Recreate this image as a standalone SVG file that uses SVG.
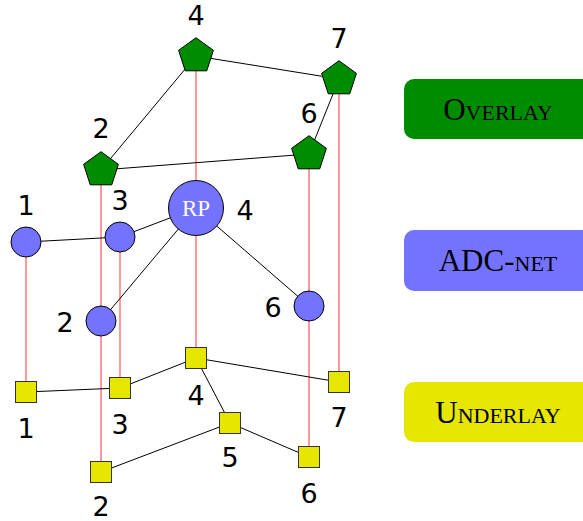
<svg xmlns="http://www.w3.org/2000/svg" width="583" height="521" viewBox="0 0 583 521">
<style>
.v{stroke:#ff9999;stroke-width:2;fill:none}
.e{stroke:#000;stroke-width:1;fill:none}
.ov{fill:#008c00;stroke:#000;stroke-width:1}
.adc{fill:#7373ff;stroke:#000;stroke-width:1}
.un{fill:#e6e600;stroke:#333;stroke-width:1}
.lb{font-family:"DejaVu Sans",sans-serif;font-size:27px;fill:#000;text-anchor:middle}
.lg{font-family:"Liberation Serif",serif;font-size:31px;fill:#000;text-anchor:middle;font-variant:small-caps}
</style>
<defs>
<polygon id="pent" points="0,-18.3 17.4,-5.65 10.76,14.8 -10.76,14.8 -17.4,-5.65"/>
</defs>
<g id="connectors">
<line class="v" x1="196" y1="56" x2="196" y2="358"/>
<line class="v" x1="101" y1="170" x2="101" y2="472"/>
<line class="v" x1="309" y1="154" x2="309" y2="457"/>
<line class="v" x1="339" y1="79" x2="339" y2="382"/>
<line class="v" x1="26" y1="242" x2="26" y2="392"/>
<line class="v" x1="120" y1="237" x2="120" y2="388"/>
<line class="e" x1="196" y1="56" x2="101" y2="170"/>
<line class="e" x1="196" y1="56" x2="339" y2="79"/>
<line class="e" x1="101" y1="170" x2="309" y2="154"/>
<line class="e" x1="309" y1="154" x2="339" y2="79"/>
<line class="e" x1="26" y1="242" x2="120" y2="237"/>
<line class="e" x1="120" y1="237" x2="196" y2="208"/>
<line class="e" x1="196" y1="208" x2="101" y2="321"/>
<line class="e" x1="196" y1="208" x2="309" y2="306"/>
<line class="e" x1="26" y1="392" x2="120" y2="388"/>
<line class="e" x1="120" y1="388" x2="196" y2="358"/>
<line class="e" x1="196" y1="358" x2="339" y2="382"/>
<line class="e" x1="196" y1="358" x2="230" y2="423"/>
<line class="e" x1="230" y1="423" x2="101" y2="472"/>
<line class="e" x1="230" y1="423" x2="309" y2="457"/>
</g>
<g id="o4"><use href="#pent" class="ov" x="196" y="56"/><text class="lb" x="196" y="25">4</text></g>
<g id="o2"><use href="#pent" class="ov" x="101" y="170"/><text class="lb" x="101" y="138">2</text></g>
<g id="o7"><use href="#pent" class="ov" x="339" y="79"/><text class="lb" x="339" y="48">7</text></g>
<g id="o6"><use href="#pent" class="ov" x="309" y="154"/><text class="lb" x="309" y="123">6</text></g>
<g id="a1"><circle class="adc" cx="26" cy="242" r="15"/><text class="lb" x="26" y="215">1</text></g>
<g id="a3"><circle class="adc" cx="120" cy="237" r="15"/><text class="lb" x="120" y="210">3</text></g>
<g id="rp"><circle class="adc" cx="196" cy="208" r="27.5"/><text x="196" y="216" font-family="Liberation Serif,serif" font-size="23" fill="#fff" text-anchor="middle">RP</text><text class="lb" x="245" y="220">4</text></g>
<g id="a2"><circle class="adc" cx="101" cy="321" r="15"/><text class="lb" x="65" y="332">2</text></g>
<g id="a6"><circle class="adc" cx="309" cy="306" r="15"/><text class="lb" x="273" y="317">6</text></g>
<g id="u1"><rect class="un" x="15.5" y="381.5" width="21" height="21"/><text class="lb" x="26" y="438">1</text></g>
<g id="u3"><rect class="un" x="109.5" y="377.5" width="21" height="21"/><text class="lb" x="120" y="434">3</text></g>
<g id="u4"><rect class="un" x="185.5" y="347.5" width="21" height="21"/><text class="lb" x="196" y="405">4</text></g>
<g id="u5"><rect class="un" x="219.5" y="412.5" width="21" height="21"/><text class="lb" x="230" y="467">5</text></g>
<g id="u2"><rect class="un" x="90.5" y="461.5" width="21" height="21"/><text class="lb" x="101" y="516">2</text></g>
<g id="u7"><rect class="un" x="328.5" y="371.5" width="21" height="21"/><text class="lb" x="339" y="427">7</text></g>
<g id="u6"><rect class="un" x="298.5" y="446.5" width="21" height="21"/><text class="lb" x="309" y="503">6</text></g>
<g id="legend-overlay"><rect x="404" y="79" width="200" height="60" rx="10" fill="#008c00"/><text class="lg" x="498" y="120">Overlay</text></g>
<g id="legend-adc"><rect x="404" y="230" width="200" height="61" rx="10" fill="#7373ff"/><text class="lg" x="498" y="271">ADC-net</text></g>
<g id="legend-underlay"><rect x="404" y="382" width="200" height="60" rx="10" fill="#e6e600"/><text class="lg" x="498" y="423">Underlay</text></g>
</svg>
